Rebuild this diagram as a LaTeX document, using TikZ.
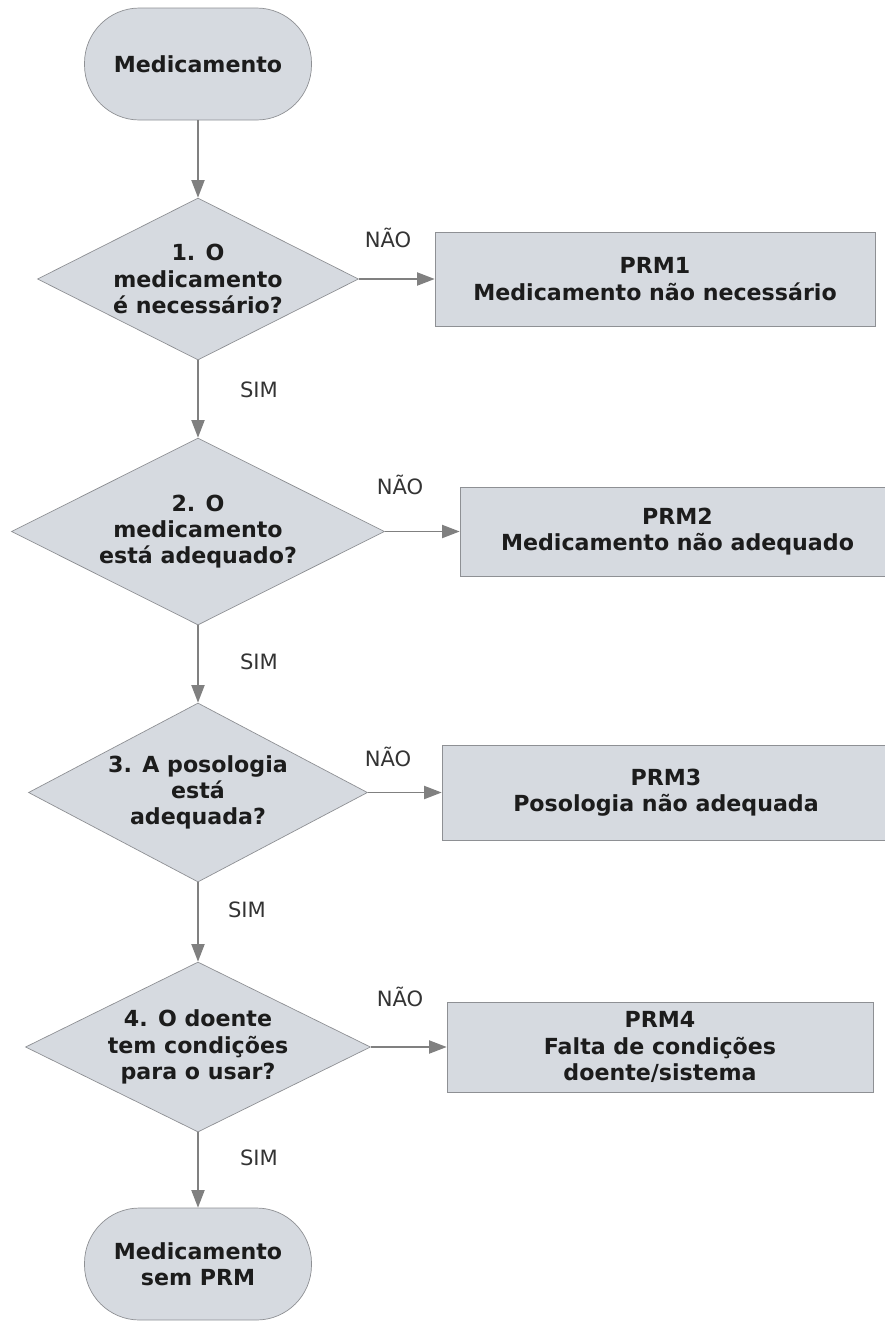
\documentclass[tikz,border=0pt]{standalone}
\usepackage{fontspec}
\setmainfont{DejaVu Sans}
\usetikzlibrary{shapes.geometric,arrows.meta}
\definecolor{caixa}{HTML}{D6DAE0}
\definecolor{borda}{HTML}{8E9094}
\definecolor{linha}{HTML}{808080}
\definecolor{letra}{HTML}{1C1C1C}
\tikzset{
  term/.style={draw=borda, fill=caixa, rounded corners=1.1cm, minimum width=4.54cm, minimum height=2.24cm, align=center, text=letra, font=\fontsize{12.6}{15}\selectfont\bfseries},
  decisao/.style={diamond, draw=borda, fill=caixa, inner sep=0pt, shape aspect=2, align=center, text=letra, font=\fontsize{12.6}{15}\selectfont\bfseries},
  prm/.style={draw=borda, fill=caixa, align=center, text=letra, font=\fontsize{12.6}{15}\selectfont\bfseries},
  lbl/.style={text=black!80, font=\fontsize{12}{14}\selectfont},
  seta/.style={draw=linha, line width=0.8pt, -{Triangle[width=7.5pt,length=10pt]}}
}
\begin{document}
\begin{tikzpicture}
\useasboundingbox (0,0) rectangle (17.7,-26.46);
\node[term] (ini) at (3.96,-1.28) {Medicamento};
\node[decisao, minimum width=6.42cm, minimum height=3.24cm] (d1) at (3.96,-5.58) {1. O\\medicamento\\é necessário?};
\node[decisao, minimum width=7.46cm, minimum height=3.74cm] (d2) at (3.96,-10.63) {2. O\\medicamento\\está adequado?};
\node[decisao, minimum width=6.78cm, minimum height=3.58cm] (d3) at (3.96,-15.85) {3. A posologia\\está\\adequada?};
\node[decisao, minimum width=6.9cm, minimum height=3.4cm] (d4) at (3.96,-20.94) {4. O doente\\tem condições\\para o usar?};
\node[term] (fim) at (3.96,-25.28) {Medicamento\\sem PRM};

\node[prm, minimum width=8.8cm, minimum height=1.88cm] (p1) at (13.1,-5.58) {PRM1\\Medicamento não necessário};
\node[prm, minimum width=8.7cm, minimum height=1.78cm] (p2) at (13.55,-10.63) {PRM2\\Medicamento não adequado};
\node[prm, minimum width=8.96cm, minimum height=1.9cm] (p3) at (13.32,-15.85) {PRM3\\Posologia não adequada};
\node[prm, minimum width=8.52cm, minimum height=1.8cm] (p4) at (13.2,-20.94) {PRM4\\Falta de condições\\doente/sistema};

\draw[seta] (ini) -- (d1);
\draw[seta] (d1) -- (d2);
\draw[seta] (d2) -- (d3);
\draw[seta] (d3) -- (d4);
\draw[seta] (d4) -- (fim);
\draw[seta] (d1.east) -- (p1.west);
\draw[seta] (d2.east) -- (p2.west);
\draw[seta] (d3.east) -- (p3.west);
\draw[seta] (d4.east) -- (p4.west);

\node[lbl] (s1) at (5.18,-7.8) {SIM};
\node[lbl] (s2) at (5.18,-13.24) {SIM};
\node[lbl] (s3) at (4.94,-18.2) {SIM};
\node[lbl] (s4) at (5.18,-23.16) {SIM};
\node[lbl] (n1) at (7.76,-4.76) {NÃO};
\node[lbl] (n2) at (8.0,-9.7) {NÃO};
\node[lbl] (n3) at (7.76,-15.14) {NÃO};
\node[lbl] (n4) at (8.0,-19.94) {NÃO};
\end{tikzpicture}
\end{document}
